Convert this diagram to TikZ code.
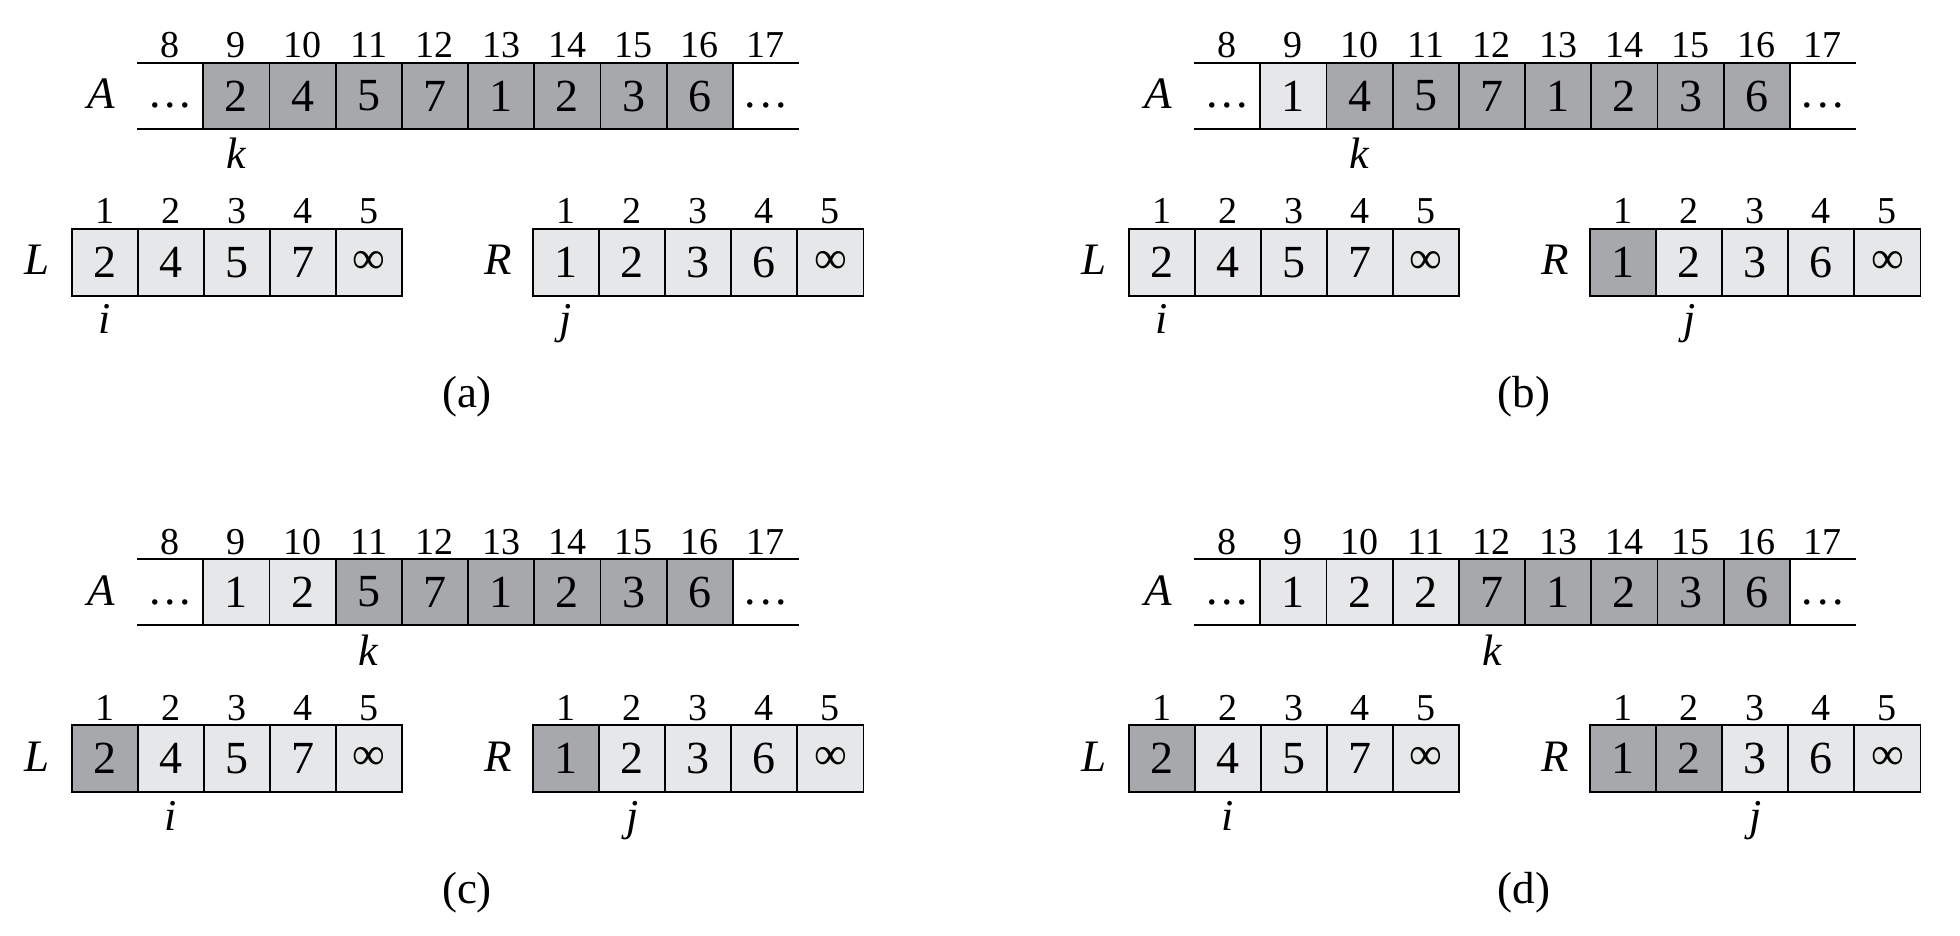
\documentclass[tikz,border=0pt]{standalone}
\usepackage{fontspec}
\setmainfont{Liberation Serif}
\definecolor{cdark}{RGB}{167,168,172}
\definecolor{clight}{RGB}{230,231,232}
\newcommand{\bigf}{\fontsize{23}{27}\selectfont}
\newcommand{\namef}{\fontsize{22.5}{26}\selectfont}
\newcommand{\ptrf}{\fontsize{22}{26}\selectfont}
\newcommand{\smallf}{\fontsize{19}{22}\selectfont}
\tikzset{
  cellbox/.style={draw, line width=0.9pt, minimum width=33.1pt, minimum height=33.2pt, inner sep=0pt, font=\bigf},
  idx/.style={anchor=base, inner sep=0pt, font=\smallf},
  arrname/.style={anchor=base, inner sep=0pt, font=\namef\itshape},
  ptr/.style={anchor=base, inner sep=0pt, font=\ptrf\itshape},
  dots/.style={anchor=base, inner sep=0pt, font=\bigf},
  captext/.style={inner sep=0pt, font=\namef},
  rail/.style={line width=0.9pt},
}
\newcommand{\hdots}{.\kern0.08em.\kern0.08em.}
% #1 xoff, #2 yoff, #3 A list, #4 k pos, #5 L list, #6 i pos, #7 R list, #8 j pos, #9 label
\newcommand{\mergepanel}[9]{%
  \begin{scope}[shift={(#1,#2)}]
    \coordinate (#9-tl) at (137,63);
    \coordinate (#9-tr) at (799,63);
    \coordinate (#9-bl) at (137,129);
    \coordinate (#9-br) at (799,129);
    \draw[rail] (#9-tl) -- (#9-tr) (#9-bl) -- (#9-br);
    \node[arrname] (#9-A) at (101,109) {A};
    \node[dots] (#9-A8) at (170.1,108) {\hdots};
    \node[dots] (#9-A17) at (765.9,108) {\hdots};
    \foreach \n in {8,...,17} {
      \node[idx] (#9-Ai\n) at ({137+66.2*(\n-8)+33.1},58) {\n};
    }
    \foreach \v/\c [count=\n from 9] in {#3} {
      \node[cellbox, fill=\c] (#9-A\n) at ({137+66.2*(\n-8)+33.1},96) {\v};
    }
    \node[ptr] (#9-k) at ({137+66.2*(#4-8)+33.1},169) {k};
    % L array
    \node[arrname] (#9-L) at (37,275) {L};
    \foreach \v/\c [count=\m from 1] in {#5} {
      \node[cellbox, fill=\c] (#9-L\m) at ({71.7+66.1*(\m-1)+33.05},262.5) {\v};
      \node[idx] (#9-Li\m) at ({71.7+66.1*(\m-1)+33.05},224) {\m};
    }
    \node[ptr] (#9-i) at ({71.7+66.1*(#6-1)+33.05},334) {i};
    % R array
    \node[arrname] (#9-R) at (498,275) {R};
    \foreach \v/\c [count=\m from 1] in {#7} {
      \node[cellbox, fill=\c] (#9-R\m) at ({533+66.1*(\m-1)+33.05},262.5) {\v};
      \node[idx] (#9-Ri\m) at ({533+66.1*(\m-1)+33.05},224) {\m};
    }
    \node[ptr] (#9-j) at ({533+66.1*(#8-1)+33.05},334) {j};
    \node[captext] (#9-cap) at (467,397) {(#9)};
  \end{scope}}
\begin{document}
\begin{tikzpicture}[x=0.5pt, y=-0.5pt]
  \useasboundingbox (0,0) rectangle (1960,936);
  \mergepanel{0}{0}{2/cdark,4/cdark,5/cdark,7/cdark,1/cdark,2/cdark,3/cdark,6/cdark}{9}%
    {2/clight,4/clight,5/clight,7/clight,∞/clight}{1}%
    {1/clight,2/clight,3/clight,6/clight,∞/clight}{1}{a}
  \mergepanel{1057}{0}{1/clight,4/cdark,5/cdark,7/cdark,1/cdark,2/cdark,3/cdark,6/cdark}{10}%
    {2/clight,4/clight,5/clight,7/clight,∞/clight}{1}%
    {1/cdark,2/clight,3/clight,6/clight,∞/clight}{2}{b}
  \mergepanel{0}{496}{1/clight,2/clight,5/cdark,7/cdark,1/cdark,2/cdark,3/cdark,6/cdark}{11}%
    {2/cdark,4/clight,5/clight,7/clight,∞/clight}{2}%
    {1/cdark,2/clight,3/clight,6/clight,∞/clight}{2}{c}
  \mergepanel{1057}{496}{1/clight,2/clight,2/clight,7/cdark,1/cdark,2/cdark,3/cdark,6/cdark}{12}%
    {2/cdark,4/clight,5/clight,7/clight,∞/clight}{2}%
    {1/cdark,2/cdark,3/clight,6/clight,∞/clight}{3}{d}
\end{tikzpicture}
\end{document}
